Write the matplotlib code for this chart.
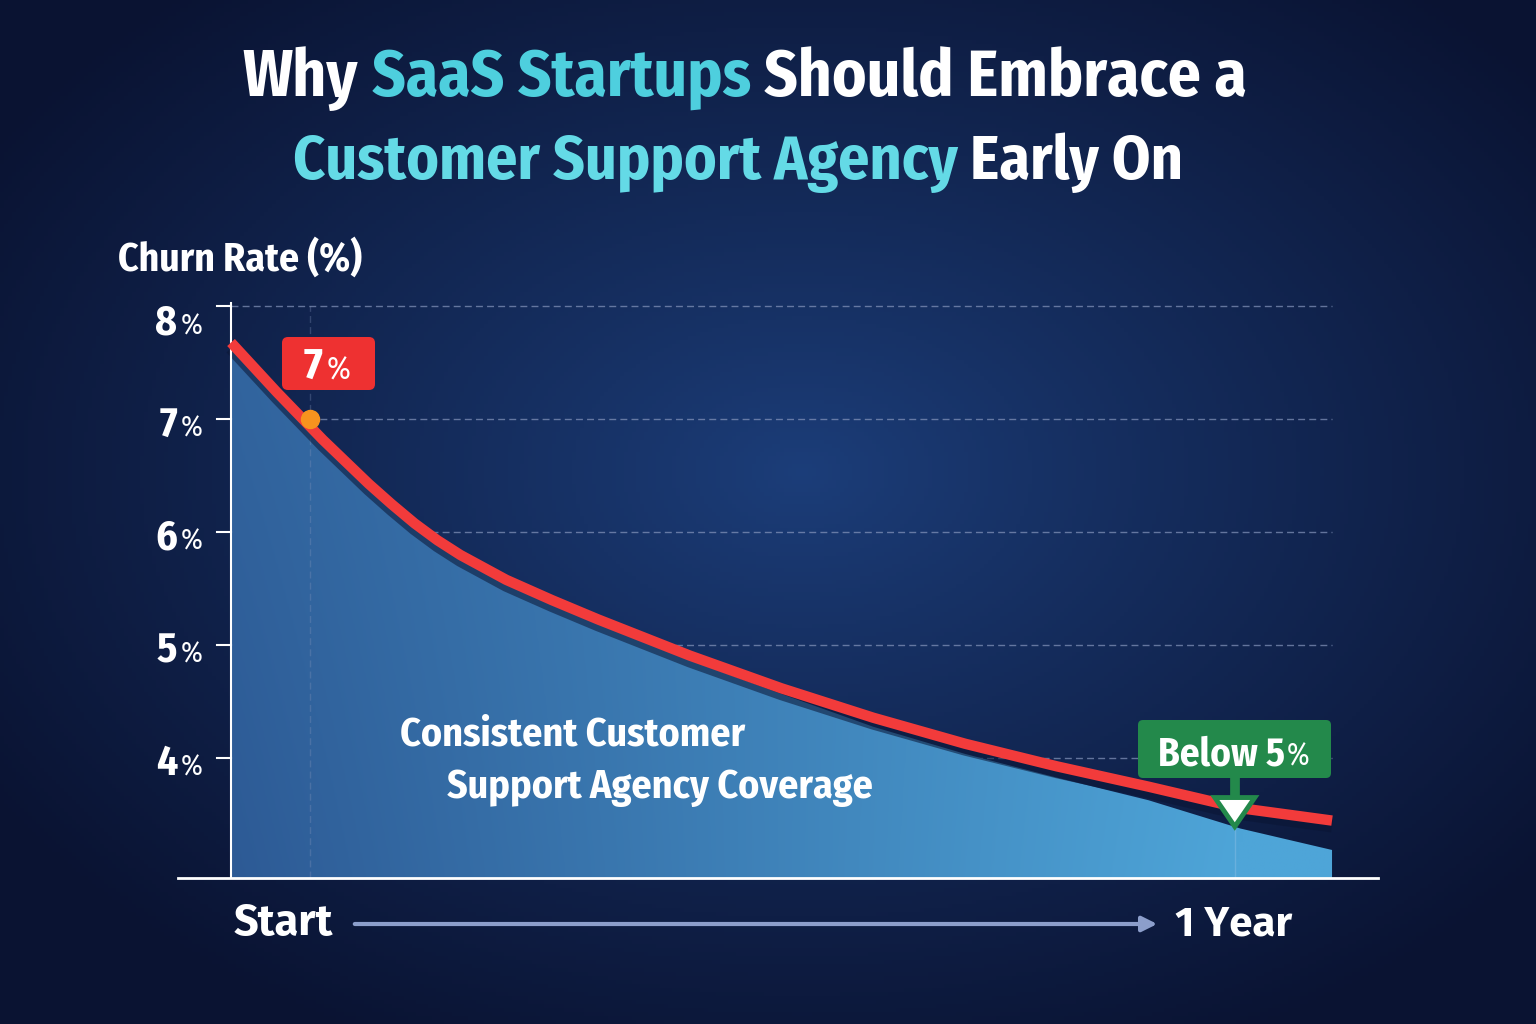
import numpy as np
import matplotlib.pyplot as plt
from matplotlib.patches import FancyBboxPatch, Polygon
from matplotlib.colors import to_rgb

COND = ['Fira Sans Condensed', 'Open Sans Condensed', 'IBM Plex Sans Condensed', 'DejaVu Sans']
WIDE = ['Fira Sans', 'Open Sans', 'DejaVu Sans']
plt.rcParams['font.family'] = COND

# ---------------- DATA ---------------- #
months = [0, 0.5, 1, 1.5, 1.75, 2, 2.25, 2.5, 3, 3.5, 4, 4.5, 5, 6, 7, 8, 9, 10, 11, 12]
churn = [7.68, 7.24, 6.82, 6.43, 6.25, 6.08, 5.93, 5.80, 5.58, 5.40, 5.23, 5.07, 4.91,
         4.62, 4.36, 4.13, 3.93, 3.75, 3.56, 3.45]
fill_top = [7.64, 7.20, 6.78, 6.39, 6.21, 6.04, 5.89, 5.76, 5.54, 5.36, 5.19, 5.03, 4.87,
            4.57, 4.28, 4.04, 3.83, 3.63, 3.38, 3.19]
y_ticks = [4, 5, 6, 7, 8]

start_month, start_value = 0.86, 7.0
target_month, target_value = 10.94, 3.53

title_1 = [("Why", "white"), ("SaaS Startups", "#4ecfde"), ("Should Embrace a", "white")]
title_2 = [("Customer Support Agency", "#64dae6"), ("Early On", "white")]

WHITE = "#ffffff"
RED = "#f23b3b"
GREEN = "#23894b"

# ---------------- FIGURE ---------------- #
fig = plt.figure(figsize=(15.36, 10.24), dpi=100)

# background: radial navy gradient
ax_bg = fig.add_axes([0, 0, 1, 1], zorder=0)
ax_bg.set_xlim(0, 1536)
ax_bg.set_ylim(1024, 0)
ax_bg.axis("off")
yy, xx = np.mgrid[0:1024:4, 0:1536:4]
d = np.sqrt(((xx - 800) / 950.0) ** 2 + ((yy - 470) / 640.0) ** 2)
d = np.clip(d, 0, 1)[..., None] ** 0.9
c_in = np.array(to_rgb("#1c3e7a"))
c_out = np.array(to_rgb("#0a1332"))
bg = c_in * (1 - d) + c_out * d
ax_bg.imshow(bg, extent=[0, 1536, 1024, 0], aspect="auto")

# main chart axes
ax = fig.add_axes([178 / 1536, 146 / 1024, 1200 / 1536, 592 / 1024], zorder=2)
ax.patch.set_alpha(0)
ax.set_xlim(-0.578, 12.501)
y_bot = 2.942
ax.set_ylim(y_bot, 8.18)
for s in ["top", "right", "left"]:
    ax.spines[s].set_visible(False)
ax.spines["bottom"].set_color(WHITE)
ax.spines["bottom"].set_linewidth(2)
ax.set_xticks([])
ax.set_yticks([])

# gridlines + tick marks
for v in y_ticks:
    ax.plot([0, 12], [v, v], ls=(0, (5, 3)), color="#8797bd", lw=1, alpha=0.7, zorder=1)
    ax.plot([-0.15, 0], [v, v], color=WHITE, lw=1.5, clip_on=False, zorder=3)
ax.plot([0, 0], [y_bot, 8.03], color=WHITE, lw=1.5, zorder=3)

# gradient area fill
gy, gx = np.mgrid[0:1:200j, 0:1:300j]
t = np.clip(0.8 * gx + 0.3 * gy * gx + 0.15 * (1 - gy), 0, 1)[..., None]
c_l = np.array(to_rgb("#2d5a95"))
c_r = np.array(to_rgb("#4ea5d8"))
grad = c_l * (1 - t) + c_r * t
im = ax.imshow(grad, extent=[0, 12, y_bot, 8], origin="upper", aspect="auto", zorder=1.5)
poly = ax.fill_between(months, fill_top, y_bot, facecolor="none", edgecolor="none")
im.set_clip_path(poly.get_paths()[0], transform=ax.transData)

# faint vertical guides
ax.plot([start_month, start_month], [y_bot, 8], ls=(0, (5, 3)), color="#8797bd", lw=1, alpha=0.3, zorder=1.6)
ax.plot([target_month, target_month], [y_bot, target_value], color="#9ec8ea", lw=1, alpha=0.35, zorder=1.6)

# churn line with shadow
ax.plot(months, [c - 0.05 for c in churn], color="#0a1534", lw=9, alpha=0.55, zorder=2.5,
        solid_capstyle="butt", solid_joinstyle="round")
ax.plot(months, churn, color=RED, lw=7.5, zorder=3, solid_capstyle="butt", solid_joinstyle="round")
ax.plot([start_month], [start_value], "o", ms=13, color="#f7931e", zorder=4)

# overlay axes for text/annotations in pixel coords
ax_top = fig.add_axes([0, 0, 1, 1], zorder=5)
ax_top.patch.set_alpha(0)
ax_top.set_xlim(0, 1536)
ax_top.set_ylim(1024, 0)
ax_top.axis("off")

renderer = fig.canvas.get_renderer()


def px(m, v):
    return ax_top.transData.inverted().transform(ax.transData.transform((m, v)))


def width(s, size, weight="bold", family=None):
    t = ax_top.text(0, 0, s, fontsize=size, fontweight=weight, family=family or COND)
    w = t.get_window_extent(renderer=renderer).width
    t.remove()
    return w


def fit_size(s, target, weight="bold", family=None):
    return 40 * target / width(s, 40, weight, family)


def rich_line(pieces, x, y, size):
    space = width("x x", size) - width("xx", size)
    ws = [width(s, size) for s, _ in pieces]
    total = sum(ws) + space * (len(pieces) - 1)
    cur = x - total / 2
    for (s, col), w in zip(pieces, ws):
        ax_top.text(cur, y, s, fontsize=size, fontweight="bold", color=col, va="baseline")
        cur += w + space


# title
rich_line(title_1, 745, 96, fit_size(" ".join(s for s, _ in title_1), 1005))
rich_line(title_2, 738, 179, fit_size(" ".join(s for s, _ in title_2), 890))

# y label
ax_top.text(118, 271, "Churn Rate (%)", fontsize=fit_size("Churn Rate (%)", 244), fontweight="bold",
            color=WHITE, va="baseline")

# y tick labels
for v in y_ticks:
    x0, y0 = px(0, v)
    if v == 8:
        y0 += 11
    ax_top.text(x0 - 54, y0 + 17, str(v), fontsize=30, fontweight="bold", color=WHITE, ha="right",
                va="baseline")
    ax_top.text(x0 - 50, y0 + 17, "%", fontsize=21, color=WHITE, ha="left", va="baseline")

# 7% callout
box = FancyBboxPatch((282, 337), 93, 53, boxstyle="round,pad=0,rounding_size=6",
                     fc="#ee3131", ec="none")
ax_top.add_patch(box)
ax_top.text(323, 380, "7", fontsize=32, fontweight="bold", color=WHITE, ha="right", va="baseline")
ax_top.text(327, 379, "%", fontsize=23, color=WHITE, ha="left", va="baseline")

# Below 5% callout
tx, ty = px(target_month, target_value)
ax_top.plot([tx, tx], [778, ty - 12], color=GREEN, lw=7, zorder=2, solid_capstyle="butt")
gbox = FancyBboxPatch((1138, 720), 193, 58, boxstyle="round,pad=0,rounding_size=5",
                      fc=GREEN, ec="none")
ax_top.add_patch(gbox)
b_size = fit_size("Below 5", 127)
ax_top.text(1158, 765, "Below 5", fontsize=b_size, fontweight="bold", color=WHITE, ha="left",
            va="baseline")
ax_top.text(1287, 765, "%", fontsize=b_size * 0.78, color=WHITE, ha="left", va="baseline")
tri = Polygon([[tx - 20, ty - 14], [tx + 20, ty - 14], [tx, ty + 15]], closed=True,
              fc=WHITE, ec=GREEN, lw=3.5, zorder=3)
ax_top.add_patch(tri)

# area caption
c_size = fit_size("Support Agency Coverage", 426)
ax_top.text(400, 746, "Consistent Customer", fontsize=c_size, fontweight="bold", color=WHITE, va="baseline")
ax_top.text(447, 798, "Support Agency Coverage", fontsize=c_size, fontweight="bold", color=WHITE,
            va="baseline")

# timeline
s_size = fit_size("Start", 99, family=WIDE)
ax_top.text(234, 935, "Start", fontsize=s_size, fontweight="bold", color=WHITE, va="baseline", family=WIDE)
ax_top.text(1175, 935, "1 Year", fontsize=s_size * 0.97, fontweight="bold", color=WHITE, va="baseline",
            family=WIDE)
ax_top.annotate("", xy=(1160, 924), xytext=(352, 924),
                arrowprops=dict(arrowstyle="-|>,head_length=0.9,head_width=0.45", color="#8c9ecb", lw=3))

fig.savefig("out.png", dpi=100)
